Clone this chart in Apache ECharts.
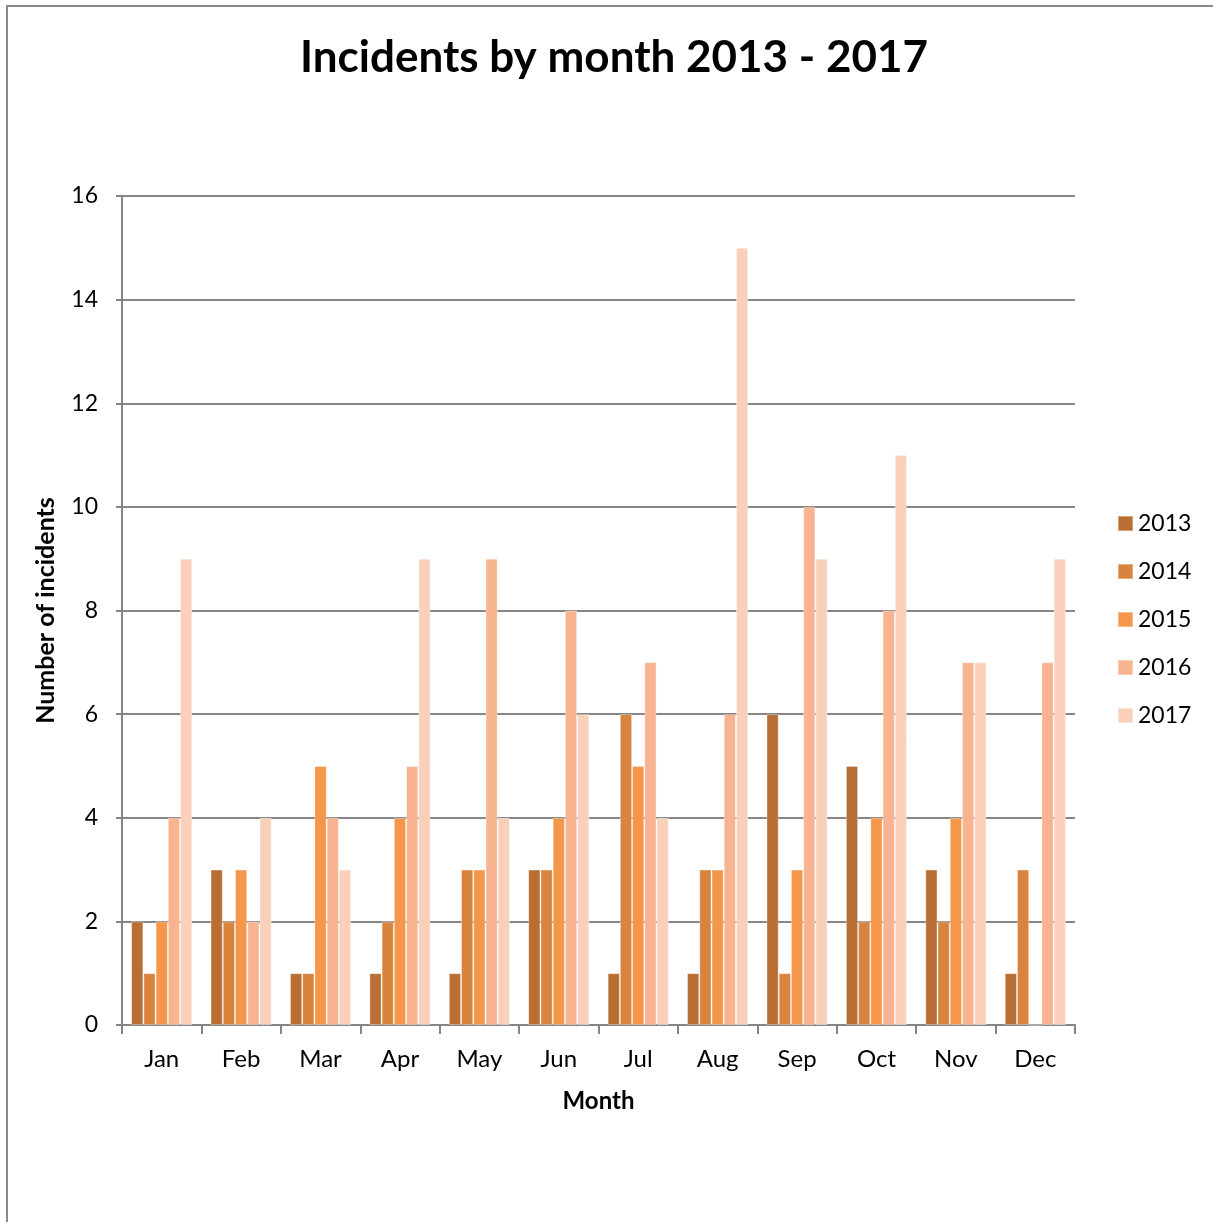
<!DOCTYPE html>
<html>
<head>
<meta charset="utf-8">
<style>
  html, body { margin: 0; padding: 0; background: #fff; }
  #chart { width: 1213px; height: 1222px; }
</style>
<script src="https://cdn.jsdelivr.net/npm/echarts@6/dist/echarts.min.js"></script>
</head>
<body>
<div id="chart"></div>
<script>
// Monthly incident counts per year
const months = ['Jan', 'Feb', 'Mar', 'Apr', 'May', 'Jun', 'Jul', 'Aug', 'Sep', 'Oct', 'Nov', 'Dec'];
const years = ['2013', '2014', '2015', '2016', '2017'];
const y2013 = [2, 3, 1, 1, 1, 3, 1, 1, 6, 5, 3, 1];
const y2014 = [1, 2, 1, 2, 3, 3, 6, 3, 1, 2, 2, 3];
const y2015 = [2, 3, 5, 4, 3, 4, 5, 3, 3, 4, 4, 0];
const y2016 = [4, 2, 4, 5, 9, 8, 7, 6, 10, 8, 7, 7];
const y2017 = [9, 4, 3, 9, 4, 6, 4, 15, 9, 11, 7, 9];
const yTicks = [0, 2, 4, 6, 8, 10, 12, 14, 16];
const palette = ['#B96F33', '#D8843F', '#F5974A', '#F8B490', '#FAD0BB'];

const seriesValues = [y2013, y2014, y2015, y2016, y2017];
const font = 'Lato, "Open Sans", sans-serif';

const chart = echarts.init(document.getElementById('chart'), null, { renderer: 'canvas' });
chart.setOption({
  animation: false,
  backgroundColor: '#fff',
  color: palette,
  title: {
    text: 'Incidents by month 2013 - 2017',
    left: 295,
    top: 31,
    textStyle: { fontFamily: font, fontSize: 44, fontWeight: 'bold', color: '#000' }
  },
  graphic: [{
    type: 'rect',
    shape: { x: 7, y: 6, width: 1220, height: 1230 },
    style: { fill: 'none', stroke: '#898989', lineWidth: 2 },
    silent: true
  }],
  legend: {
    orient: 'vertical',
    left: 1112,
    top: 507,
    itemWidth: 15,
    itemHeight: 15,
    itemGap: 25,
    icon: 'rect',
    textStyle: { fontFamily: font, fontSize: 23, color: '#000' },
    data: years
  },
  grid: { left: 122, right: 138, top: 196, bottom: 197 },
  xAxis: {
    type: 'category',
    data: months,
    name: 'Month',
    nameLocation: 'middle',
    nameGap: 64,
    nameTextStyle: { fontFamily: font, fontSize: 24, fontWeight: 'bold', color: '#000' },
    axisLine: { lineStyle: { color: '#868686', width: 2 } },
    axisTick: { show: true, length: 9, alignWithLabel: false, lineStyle: { color: '#868686', width: 2 } },
    axisLabel: { fontFamily: font, fontSize: 24, color: '#000', margin: 22 }
  },
  yAxis: {
    type: 'value',
    min: 0,
    max: 16,
    interval: 2,
    name: 'Number of incidents',
    nameLocation: 'middle',
    nameGap: 64,
    nameRotate: 90,
    nameTextStyle: { fontFamily: font, fontSize: 25, fontWeight: 'bold', color: '#000' },
    axisLine: { show: true, lineStyle: { color: '#868686', width: 2 } },
    axisTick: { show: true, length: 6, lineStyle: { color: '#868686', width: 2 } },
    axisLabel: {
      fontFamily: font, fontSize: 23, color: '#000', margin: 24,
      formatter: v => (yTicks.includes(v) ? String(v) : '')
    },
    splitLine: { lineStyle: { color: '#868686', width: 2 } }
  },
  series: years.map((yr, i) => ({
    name: yr,
    type: 'bar',
    data: seriesValues[i],
    barGap: '0%',
    barCategoryGap: '23%',
    itemStyle: { color: palette[i], borderColor: 'rgba(255,255,255,0.35)', borderWidth: 1 }
  }))
});
</script>
</body>
</html>
